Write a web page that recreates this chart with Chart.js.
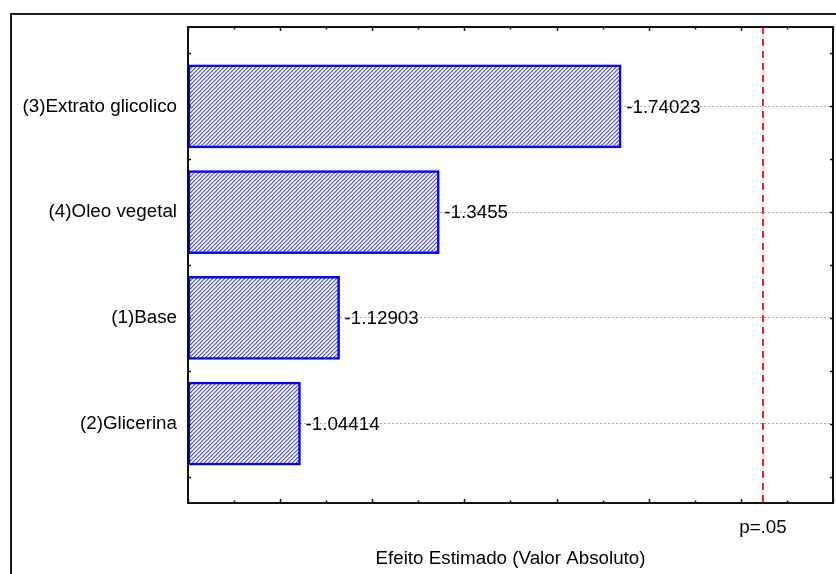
<!DOCTYPE html>
<html>
<head>
<meta charset="utf-8">
<script src="https://cdn.jsdelivr.net/npm/chart.js@4.4.1/dist/chart.umd.min.js"></script>
<style>
  html, body { margin: 0; padding: 0; background: #ffffff; }
  canvas { display: block; }
</style>
</head>
<body>
<canvas id="pareto" width="836" height="574"></canvas>
<script>
// Pareto chart of standardized effects (top to bottom)
const factors = ['(3)Extrato glicolico', '(4)Oleo vegetal', '(1)Base', '(2)Glicerina'];
const effects = [-1.74023, -1.3455, -1.12903, -1.04414];

// Significance limit (p = .05)
const criticalValue = 2.048;
const criticalLabel = 'p=.05';

// Axis settings
const xAxisTitle = 'Efeito Estimado (Valor Absoluto)';
const xMin = 0.8;
const xMax = 2.2;
const xTickStep = 0.1;
const yTickStep = 0.5;

const FONT = "'Liberation Sans', Arial, Helvetica, sans-serif";
const FONT_SIZE = 18.8;
Chart.defaults.font.family = FONT;
Chart.defaults.font.size = FONT_SIZE;
Chart.defaults.color = '#000000';

// Diagonal hatch fill for the bars
function makeHatch() {
  const n = 4;
  const c = document.createElement('canvas');
  c.width = n; c.height = n;
  const g = c.getContext('2d');
  const img = g.createImageData(n, n);
  const shades = [[255, 255, 255], [232, 232, 255], [78, 78, 255], [172, 172, 255]];
  for (let y = 0; y < n; y++) {
    for (let x = 0; x < n; x++) {
      const s = shades[(x + y) % n];
      const k = (y * n + x) * 4;
      img.data[k] = s[0]; img.data[k + 1] = s[1]; img.data[k + 2] = s[2]; img.data[k + 3] = 255;
    }
  }
  g.putImageData(img, 0, 0);
  return document.getElementById('pareto').getContext('2d').createPattern(c, 'repeat');
}

function xTickValues() {
  const out = [];
  const count = Math.round((xMax - xMin) / xTickStep);
  for (let i = 0; i <= count; i++) out.push(Math.round((xMin + i * xTickStep) * 1000) / 1000);
  return out;
}
function yTickValues() {
  const out = [];
  for (let v = -0.5; v <= factors.length - 0.5 + 1e-9; v += yTickStep) out.push(v);
  return out;
}

const paretoDecor = {
  id: 'paretoDecor',
  beforeDraw(chart) {
    const ctx = chart.ctx;
    ctx.save();
    ctx.fillStyle = '#ffffff';
    ctx.fillRect(0, 0, chart.width, chart.height);
    // outer panel frame
    ctx.strokeStyle = '#1c1c1c';
    ctx.lineWidth = 2;
    ctx.strokeRect(11, 14, chart.width + 20, chart.height + 20);
    ctx.restore();
  },
  afterDatasetsDraw(chart) {
    const ctx = chart.ctx;
    const area = chart.chartArea;
    const xs = chart.scales.x;
    ctx.save();
    // significance line
    const xc = Math.round(xs.getPixelForValue(criticalValue));
    ctx.strokeStyle = '#ff2020';
    ctx.lineWidth = 2;
    ctx.setLineDash([7, 5]);
    ctx.beginPath();
    ctx.moveTo(xc, area.top);
    ctx.lineTo(xc, area.bottom);
    ctx.stroke();
    ctx.setLineDash([]);
    // effect values next to the bars
    const meta = chart.getDatasetMeta(0);
    ctx.fillStyle = '#000000';
    ctx.font = FONT_SIZE + 'px ' + FONT;
    ctx.textAlign = 'left';
    ctx.textBaseline = 'middle';
    meta.data.forEach((bar, i) => {
      ctx.fillText(String(effects[i]), bar.x + 5, bar.y + 1);
    });
    ctx.restore();
  },
  afterDraw(chart) {
    const ctx = chart.ctx;
    const a = chart.chartArea;
    const xs = chart.scales.x;
    const ys = chart.scales.y;
    ctx.save();
    ctx.strokeStyle = '#111111';
    ctx.lineWidth = 1.5;
    // inward tick marks on all four sides
    ctx.beginPath();
    xTickValues().forEach((v, i) => {
      const px = Math.round(xs.getPixelForValue(v)) + 0.5;
      const len = (i % 2 === 0) ? 4 : 2.5;
      ctx.moveTo(px, a.bottom); ctx.lineTo(px, a.bottom - len);
      ctx.moveTo(px, a.top); ctx.lineTo(px, a.top + len);
    });
    yTickValues().forEach(v => {
      const py = Math.round(ys.getPixelForValue(v)) + 0.5;
      ctx.moveTo(a.left, py); ctx.lineTo(a.left + 3, py);
      ctx.moveTo(a.right, py); ctx.lineTo(a.right - 3, py);
    });
    ctx.stroke();
    // plot frame
    ctx.lineWidth = 2;
    ctx.strokeRect(a.left, a.top, a.right - a.left, a.bottom - a.top);
    ctx.restore();
  }
};

const chart = new Chart(document.getElementById('pareto'), {
  type: 'bar',
  data: {
    datasets: [{
      data: effects.map((v, i) => ({ x: Math.abs(v), y: i })),
      base: xMin,
      backgroundColor: makeHatch(),
      borderColor: '#0000ff',
      borderWidth: 2.5,
      borderSkipped: false,
      barThickness: 83
    }]
  },
  options: {
    indexAxis: 'y',
    responsive: false,
    animation: false,
    devicePixelRatio: 1,
    layout: { padding: { top: 27, right: 3, left: 0, bottom: 0 } },
    plugins: { legend: { display: false }, tooltip: { enabled: false } },
    scales: {
      x: {
        type: 'linear',
        position: 'bottom',
        min: xMin,
        max: xMax,
        offset: false,
        afterBuildTicks(scale) {
          scale.ticks = xTickValues().concat([criticalValue]).sort((p, q) => p - q).map(v => ({ value: v }));
        },
        afterFit(scale) {
          scale.height = 71;
          scale.paddingLeft = 0;
          scale.paddingRight = 0;
        },
        ticks: {
          autoSkip: false,
          maxRotation: 0,
          padding: 14,
          callback: (v) => (Math.abs(v - criticalValue) < 1e-9 ? criticalLabel : '')
        },
        grid: { display: false, drawTicks: false, offset: false },
        border: { display: false },
        title: {
          display: true,
          text: xAxisTitle,
          font: { size: FONT_SIZE },
          padding: { top: 0, bottom: 4 }
        }
      },
      y: {
        type: 'linear',
        reverse: true,
        offset: false,
        min: -0.75,
        max: factors.length - 0.25,
        afterBuildTicks(scale) {
          scale.ticks = yTickValues().map(v => ({ value: v }));
        },
        afterFit(scale) {
          scale.width = 188;
          scale.paddingTop = 0;
          scale.paddingBottom = 0;
        },
        ticks: {
          autoSkip: false,
          padding: 11,
          callback: (v) => (Number.isInteger(v) ? factors[v] : '')
        },
        grid: {
          drawTicks: false,
          offset: false,
          lineWidth: 1,
          color: (c) => (c.tick && Number.isInteger(c.tick.value) ? '#a8a8a8' : 'rgba(0,0,0,0)')
        },
        border: { display: false, dash: [2, 2] }
      }
    }
  },
  plugins: [paretoDecor]
});
</script>
</body>
</html>
